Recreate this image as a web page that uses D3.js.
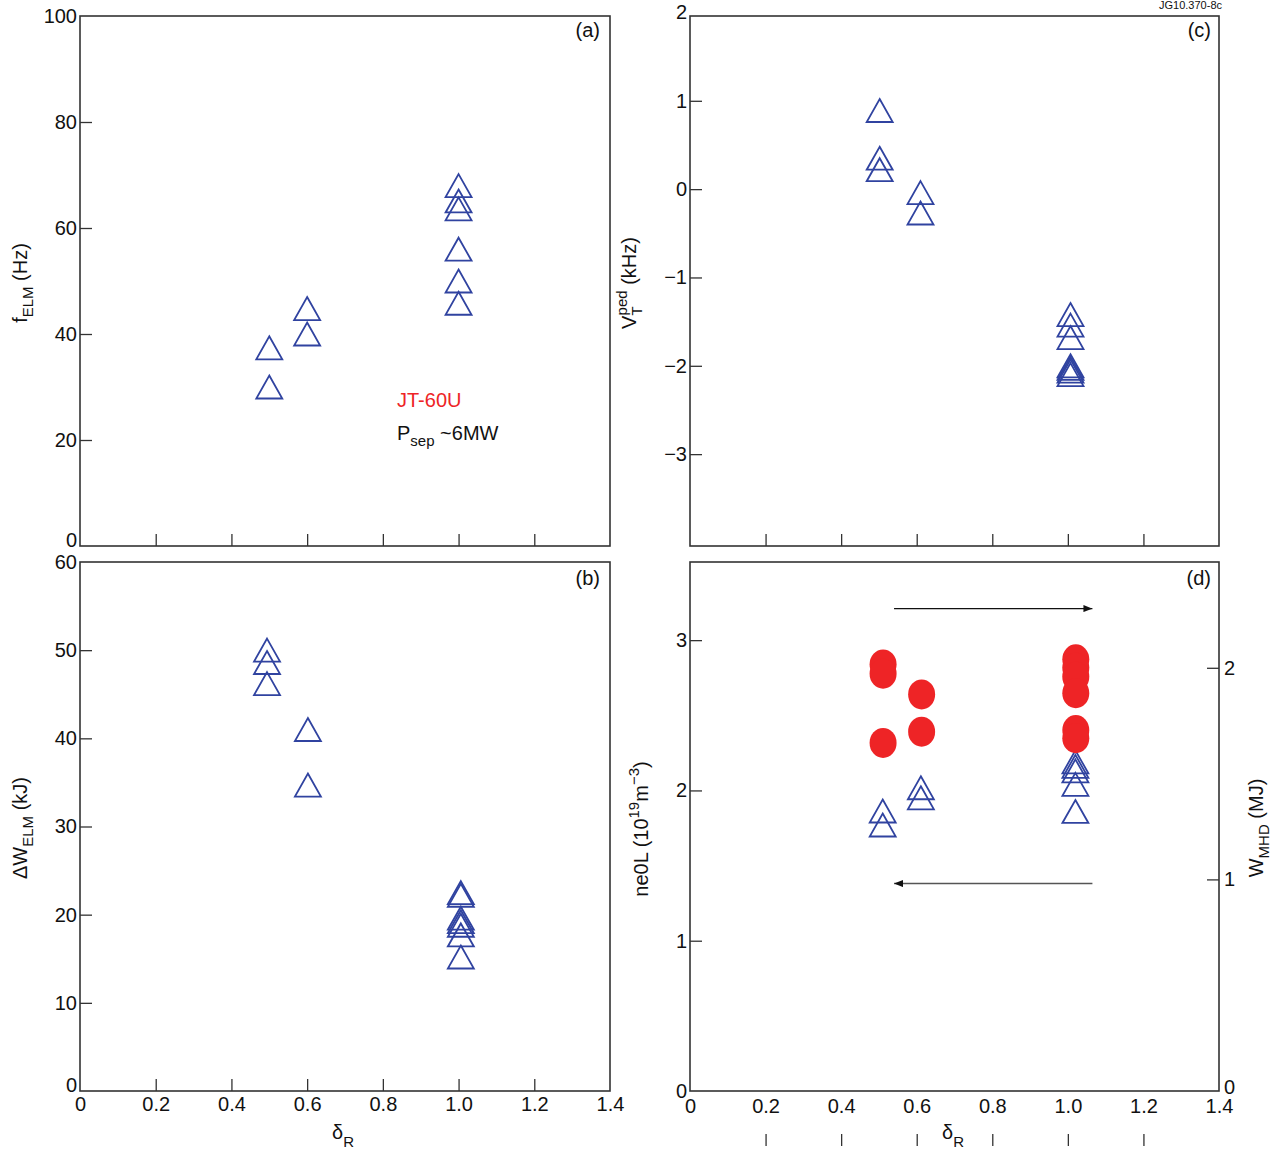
<!DOCTYPE html>
<html>
<head>
<meta charset="utf-8">
<script src="https://cdn.jsdelivr.net/npm/d3@7"></script>
<style>
  body { margin: 0; background: #fff; }
  svg text { font-family: "Liberation Sans", Arial, Helvetica, sans-serif; fill: #111; }
</style>
</head>
<body>
<svg id="fig"></svg>
<script>
const width = 1280;
const height = 1153;
const blue = '#3043a0';
const red = '#ee2426';
const frameColor = '#333';

// tick values
const tickX = [0, 0.2, 0.4, 0.6, 0.8, 1.0, 1.2, 1.4];
const tickA = [0, 20, 40, 60, 80, 100];
const tickB = [0, 10, 20, 30, 40, 50, 60];
const tickC = [-3, -2, -1, 0, 1, 2];
const tickD = [0, 1, 2, 3];
const tickW = [0, 1, 2];

// (a) ELM frequency
const deltaA = [0.50, 0.50, 0.60, 0.60, 1.00, 1.00, 1.00, 1.00, 1.00, 1.00];
const fElm   = [37.4, 30.0, 44.8, 40.0, 68.0, 65.1, 63.6, 56.0, 50.0, 45.8];

// (b) ELM energy loss
const deltaB = [0.494, 0.494, 0.494, 0.602, 0.602, 1.006, 1.006, 1.006, 1.006, 1.006, 1.006, 1.006];
const dWelm  = [50.0, 48.6, 46.2, 41.0, 34.7, 22.5, 22.2, 19.6, 19.2, 18.8, 17.7, 15.2];

// (c) pedestal toroidal rotation
const deltaC = [0.502, 0.502, 0.502, 0.61, 0.61, 1.007, 1.007, 1.007, 1.007, 1.007, 1.007, 1.007];
const vTped  = [0.89, 0.35, 0.22, -0.04, -0.27, -1.42, -1.54, -1.68, -2.00, -2.03, -2.06, -2.10];

// (d) line density (triangles, left axis) and stored energy (circles, right axis)
const deltaDn = [0.51, 0.51, 0.611, 0.611, 1.02, 1.02, 1.02, 1.02, 1.02];
const ne0L    = [1.863, 1.77, 2.018, 1.951, 2.19, 2.16, 2.13, 2.04, 1.86];
const deltaDw = [0.511, 0.511, 0.511, 0.613, 0.613, 1.021, 1.021, 1.021, 1.021, 1.021, 1.021];
const wMhd    = [2.016, 1.972, 1.645, 1.874, 1.698, 2.04, 2.00, 1.958, 1.88, 1.706, 1.667];

// arrows in (d): x span and heights on the ne0L scale
const arrowX = [0.54, 1.065];
const arrowY = [3.21, 1.38];

const svg = d3.select('#fig')
    .attr('width', width)
    .attr('height', height);

const xLeft  = d3.scaleLinear().domain([0, 1.4]).range([80, 610]);
const xRight = d3.scaleLinear().domain([0, 1.4]).range([690, 1219]);
const yA = d3.scaleLinear().domain([0, 100]).range([546, 16]);
const yB = d3.scaleLinear().domain([0, 60]).range([1091, 562]);
const yC = d3.scaleLinear().domain([-4.04, 1.96]).range([546, 16]);
const yD = d3.scaleLinear().domain([0, 3.52]).range([1091, 562]);
const yW = d3.scaleLinear().domain([0, 2.5]).range([1091, 562]);

const fmtX = d => d === 0 ? '0' : d3.format('.1f')(d);
const fmtInt = d3.format('d');

svg.append('defs').append('marker')
    .attr('id', 'head')
    .attr('markerUnits', 'userSpaceOnUse')
    .attr('markerWidth', 9).attr('markerHeight', 7)
    .attr('refX', 9).attr('refY', 3.5)
    .attr('orient', 'auto')
    .append('path')
    .attr('d', 'M0,0L9,3.5L0,7Z')
    .attr('fill', '#111');

function styleAxis(g) {
    g.select('.domain').remove();
    g.selectAll('.tick line').attr('stroke', frameColor).attr('stroke-width', 1.3);
    g.selectAll('.tick text').attr('font-size', 20).attr('fill', '#111')
        .style('font-family', '"Liberation Sans", Arial, sans-serif');
}

function dropEndLines(g, scale) {
    const [lo, hi] = d3.extent(scale.domain());
    g.selectAll('.tick line').filter(d => d <= lo + 1e-9 || d >= hi - 1e-9).remove();
}

function frame(x, y) {
    svg.append('rect')
        .attr('x', x.range()[0]).attr('y', y.range()[1])
        .attr('width', x.range()[1] - x.range()[0])
        .attr('height', y.range()[0] - y.range()[1])
        .attr('fill', 'none')
        .attr('stroke', frameColor)
        .attr('stroke-width', 1.6);
}

function leftAxis(x, y, values) {
    const g = svg.append('g').attr('transform', `translate(${x.range()[0]},0)`)
        .call(d3.axisLeft(y).tickValues(values).tickSize(-12).tickPadding(3).tickFormat(fmtInt));
    styleAxis(g);
    dropEndLines(g, y);
    return g;
}

function bottomAxis(x, y, withLabels) {
    const g = svg.append('g').attr('transform', `translate(0,${y.range()[0]})`)
        .call(d3.axisBottom(x).tickValues(tickX).tickSize(-12).tickPadding(6)
            .tickFormat(withLabels ? fmtX : ''));
    styleAxis(g);
    dropEndLines(g, x);
    return g;
}

const triPath = (w, h) => `M0,${-h / 2}L${w / 2},${h / 2}L${-w / 2},${h / 2}Z`;

function triangles(xs, ys, x, y) {
    svg.append('g').selectAll('path')
        .data(d3.zip(xs, ys))
        .join('path')
        .attr('transform', d => `translate(${x(d[0])},${y(d[1])})`)
        .attr('d', triPath(26, 23))
        .attr('fill', 'none')
        .attr('stroke', blue)
        .attr('stroke-width', 1.8)
        .attr('stroke-linejoin', 'miter');
}

function title(x, y, parts, rotate) {
    const t = svg.append('text')
        .attr('transform', `translate(${x},${y})` + (rotate ? ' rotate(-90)' : ''))
        .attr('text-anchor', 'middle')
        .attr('font-size', 20);
    parts.forEach(p => {
        t.append('tspan')
            .attr('font-size', p.size || 20)
            .attr('dx', p.dx || 0)
            .attr('dy', p.dy || 0)
            .text(p.t);
    });
    return t;
}

function panelLetter(x, y, s) {
    svg.append('text').attr('x', x).attr('y', y)
        .attr('text-anchor', 'end').attr('font-size', 20).text(s);
}

// ---------- (a)
frame(xLeft, yA);
const axA = leftAxis(xLeft, yA, tickA);
axA.selectAll('.tick text').filter(d => d === 0).attr('dy', '0.02em');
bottomAxis(xLeft, yA, false);
triangles(deltaA, fElm, xLeft, yA);
panelLetter(600, 37, '(a)');
title(27, 283, [{t: 'f'}, {t: 'ELM', size: 15, dy: 6}, {t: ' (Hz)', dy: -6}], true);

svg.append('text').attr('x', 397).attr('y', 407)
    .attr('font-size', 20).style('fill', red).text('JT-60U');
const psep = svg.append('text').attr('x', 397).attr('y', 440).attr('font-size', 20);
psep.append('tspan').text('P');
psep.append('tspan').attr('font-size', 15).attr('dy', 6).text('sep');
psep.append('tspan').attr('dy', -6).text(' ~6MW');

// ---------- (b)
frame(xLeft, yB);
const axB = leftAxis(xLeft, yB, tickB);
axB.selectAll('.tick text').filter(d => d === 0).attr('dy', '0.02em');
bottomAxis(xLeft, yB, true);
triangles(deltaB, dWelm, xLeft, yB);
panelLetter(600, 585, '(b)');
title(27, 828, [{t: '\u0394W'}, {t: 'ELM', size: 15, dy: 6}, {t: ' (kJ)', dy: -6}], true);
title(343, 1139, [{t: '\u03b4'}, {t: 'R', size: 15, dy: 8}]);

// ---------- (c)
frame(xRight, yC);
leftAxis(xRight, yC, tickC);
bottomAxis(xRight, yC, false);
triangles(deltaC, vTped, xRight, yC);
panelLetter(1211, 37, '(c)');
title(636, 283, [
    {t: 'V'},
    {t: 'T', size: 15, dy: 6},
    {t: 'ped', size: 15, dx: -9, dy: -15},
    {t: ' (kHz)', dy: 9}
], true);
svg.append('text').attr('x', 1222).attr('y', 9)
    .attr('text-anchor', 'end').attr('font-size', 11).text('JG10.370-8c');

// ---------- (d)
frame(xRight, yD);
leftAxis(xRight, yD, tickD);
const axW = svg.append('g').attr('transform', `translate(${xRight.range()[1]},0)`)
    .call(d3.axisRight(yW).tickValues(tickW).tickSize(-12).tickPadding(5).tickFormat(fmtInt));
styleAxis(axW);
dropEndLines(axW, yW);
axW.selectAll('.tick text').filter(d => d === 0).attr('dy', '0.1em');

const axDx = svg.append('g').attr('transform', `translate(0,${yD.range()[0]})`)
    .call(d3.axisBottom(xRight).tickValues(tickX).tickSize(0).tickPadding(6).tickFormat(fmtX));
styleAxis(axDx);
axDx.selectAll('.tick line').remove();
axDx.selectAll('.tick text').attr('dy', '0.82em');

// stray tick row under (d)
const axDx2 = svg.append('g').attr('transform', 'translate(0,1134)')
    .call(d3.axisBottom(xRight).tickValues(tickX.slice(1, -1)).tickSize(12).tickFormat(''));
styleAxis(axDx2);

triangles(deltaDn, ne0L, xRight, yD);

svg.append('g').selectAll('ellipse')
    .data(d3.zip(deltaDw, wMhd))
    .join('ellipse')
    .attr('cx', d => xRight(d[0]))
    .attr('cy', d => yW(d[1]))
    .attr('rx', 13.5)
    .attr('ry', 15)
    .attr('fill', red);

svg.append('line')
    .attr('x1', xRight(arrowX[0])).attr('x2', xRight(arrowX[1]))
    .attr('y1', yD(arrowY[0])).attr('y2', yD(arrowY[0]))
    .attr('stroke', '#111').attr('stroke-width', 1.3)
    .attr('marker-end', 'url(#head)');
svg.append('line')
    .attr('x1', xRight(arrowX[1])).attr('x2', xRight(arrowX[0]))
    .attr('y1', yD(arrowY[1])).attr('y2', yD(arrowY[1]))
    .attr('stroke', '#555').attr('stroke-width', 1.5)
    .attr('marker-end', 'url(#head)');

panelLetter(1211, 585, '(d)');
title(648, 829, [
    {t: 'ne0L (10'},
    {t: '19', size: 15, dy: -9},
    {t: 'm', dy: 9},
    {t: '\u22123', size: 15, dy: -9},
    {t: ')', dy: 9}
], true);
title(1263, 828, [{t: 'W'}, {t: 'MHD', size: 15, dy: 6}, {t: ' (MJ)', dy: -6}], true);
title(953, 1139, [{t: '\u03b4'}, {t: 'R', size: 15, dy: 8}]);
</script>
</body>
</html>
